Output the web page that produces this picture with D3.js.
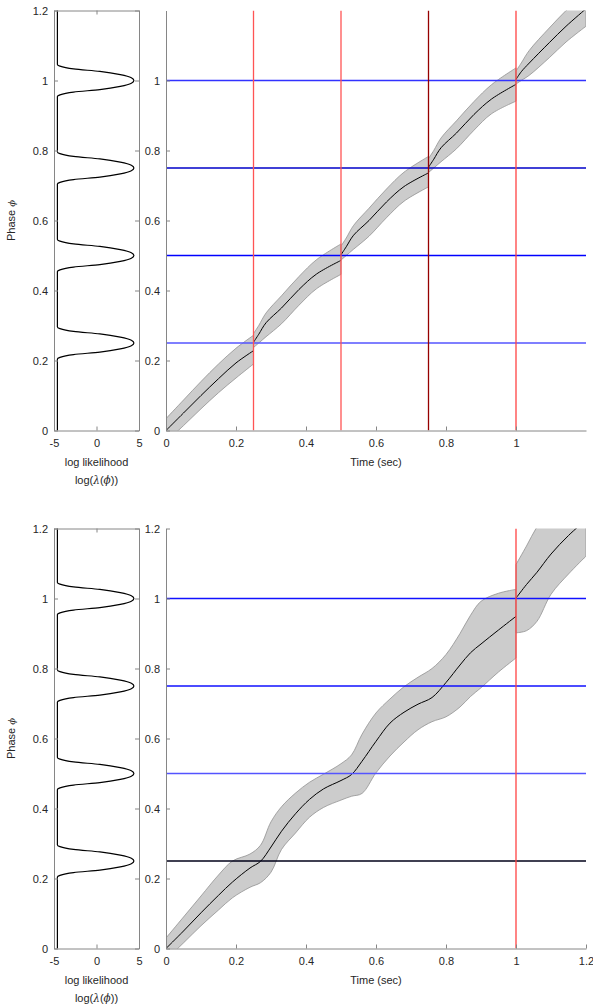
<!DOCTYPE html>
<html>
<head>
<meta charset="utf-8">
<script src="https://cdn.jsdelivr.net/npm/d3@7"></script>
<style>
  body { margin: 0; background: #fff; }
  text { font-family: "Liberation Sans", Arial, sans-serif; fill: #262626; }
</style>
</head>
<body>
<div id="fig"></div>
<script>
// ---- data ----
const phaseTicks = [0, 0.2, 0.4, 0.6, 0.8, 1, 1.2];
const topPhaseTicks = [0, 0.2, 0.4, 0.6, 0.8, 1];
const llTicks = [-5, 0, 5];
const topTimeTicks = [0, 0.2, 0.4, 0.6, 0.8, 1];
const botTimeTicks = [0, 0.2, 0.4, 0.6, 0.8, 1, 1.2];

// log likelihood profile (same in both rows)
const llPhase = [0,
  0.204, 0.209, 0.217, 0.224, 0.233, 0.242, 0.25, 0.258, 0.267, 0.276, 0.283, 0.291, 0.296,
  0.454, 0.459, 0.467, 0.474, 0.483, 0.492, 0.5, 0.508, 0.517, 0.526, 0.533, 0.541, 0.546,
  0.704, 0.709, 0.717, 0.724, 0.733, 0.742, 0.75, 0.758, 0.767, 0.776, 0.783, 0.791, 0.796,
  0.954, 0.959, 0.967, 0.974, 0.983, 0.992, 1, 1.008, 1.017, 1.026, 1.033, 1.041, 1.046,
  1.2];
const llValue = [-4.6,
  -4.6, -4.3, -2.7, 0.4, 2.8, 4.1, 4.4, 4.1, 2.8, 0.4, -2.7, -4.3, -4.6,
  -4.6, -4.3, -2.7, 0.4, 2.8, 4.1, 4.4, 4.1, 2.8, 0.4, -2.7, -4.3, -4.6,
  -4.6, -4.3, -2.7, 0.4, 2.8, 4.1, 4.4, 4.1, 2.8, 0.4, -2.7, -4.3, -4.6,
  -4.6, -4.3, -2.7, 0.4, 2.8, 4.1, 4.4, 4.1, 2.8, 0.4, -2.7, -4.3, -4.6,
  -4.6];

// top row: phase estimate with resets at every crossing
const topTime = [0, 0.05, 0.1, 0.15, 0.2, 0.25,
  0.25, 0.265, 0.286, 0.33, 0.38, 0.43, 0.5,
  0.5, 0.515, 0.536, 0.58, 0.63, 0.68, 0.75,
  0.75, 0.765, 0.786, 0.83, 0.88, 0.93, 1.0,
  1.0, 1.015, 1.038, 1.095, 1.143, 1.2];
const topMean = [0, 0.05, 0.1, 0.148, 0.193, 0.228,
  0.252, 0.275, 0.308, 0.35, 0.403, 0.447, 0.486,
  0.502, 0.525, 0.558, 0.6, 0.653, 0.697, 0.736,
  0.752, 0.775, 0.808, 0.85, 0.903, 0.947, 0.989,
  1.003, 1.025, 1.05, 1.108, 1.155, 1.205];
const topLower = [-0.033, 0.014, 0.062, 0.108, 0.15, 0.19,
  0.237, 0.25, 0.268, 0.305, 0.358, 0.405, 0.446,
  0.487, 0.5, 0.518, 0.555, 0.608, 0.655, 0.696,
  0.737, 0.75, 0.768, 0.805, 0.858, 0.905, 0.941,
  0.99, 1.0, 1.015, 1.065, 1.11, 1.155];
const topUpper = [0.034, 0.087, 0.14, 0.19, 0.235, 0.272,
  0.277, 0.3, 0.336, 0.385, 0.44, 0.488, 0.533,
  0.527, 0.55, 0.586, 0.635, 0.69, 0.738, 0.783,
  0.777, 0.8, 0.836, 0.885, 0.94, 0.988, 1.036,
  1.027, 1.05, 1.086, 1.15, 1.2, 1.255];
const topResets = [0.25, 0.5, 0.75, 1.0];
const topResetWeight = [0.25, 0.25, 0.8, 0.3];
const topLevels = [0.25, 0.5, 0.75, 1.0];
const topLevelWeight = [0.25, 0.5, 0.62, 0.35];

// bottom row: only one reset
const botTime = [0, 0.05, 0.1, 0.15, 0.19, 0.24, 0.27, 0.3, 0.33, 0.37, 0.41, 0.45, 0.5, 0.53,
  0.56, 0.6, 0.64, 0.68, 0.72, 0.76, 0.8, 0.84, 0.87, 0.9, 0.95, 1.0,
  1.0, 1.03, 1.06, 1.1, 1.15, 1.2];
const botMean = [0, 0.05, 0.102, 0.152, 0.19, 0.23, 0.249, 0.29, 0.335, 0.385, 0.426, 0.456, 0.48, 0.497,
  0.535, 0.592, 0.644, 0.675, 0.698, 0.717, 0.76, 0.81, 0.845, 0.87, 0.91, 0.949,
  1.001, 1.04, 1.075, 1.127, 1.18, 1.225];
const botUpper = [0.03, 0.09, 0.15, 0.21, 0.25, 0.27, 0.295, 0.362, 0.405, 0.444, 0.475, 0.498, 0.528, 0.553,
  0.612, 0.673, 0.713, 0.748, 0.775, 0.8, 0.84, 0.9, 0.952, 0.992, 1.015, 1.026,
  1.097, 1.15, 1.205, 1.26, 1.32, 1.37];
const botLower = [-0.032, 0.016, 0.065, 0.11, 0.145, 0.175, 0.188, 0.218, 0.283, 0.33, 0.375, 0.403, 0.424, 0.435,
  0.443, 0.502, 0.55, 0.59, 0.625, 0.648, 0.662, 0.69, 0.72, 0.745, 0.79, 0.83,
  0.902, 0.908, 0.935, 1.012, 1.07, 1.121];
const botResets = [1.0];
const botResetWeight = [0.3];
const botLevels = [0.25, 0.5, 0.75, 1.0];
const botLevelWeight = [1.0, 0.25, 0.45, 0.45];

// ---- drawing ----
const W = 593, H = 1007;
const axisColor = "#868686";
const redScale = d3.piecewise(d3.interpolateRgb, ["#ffa8a8", "#ff0000", "#500000"]);
const blueScale = d3.piecewise(d3.interpolateRgb, ["#a8a8ff", "#0000ff", "#000018"]);

const svg = d3.select("#fig").append("svg")
  .attr("width", W)
  .attr("height", H);

function styleAxis(sel) {
  sel.selectAll("path.domain").attr("stroke", axisColor).attr("stroke-width", 1);
  sel.selectAll(".tick line").attr("stroke", axisColor);
  sel.selectAll(".tick text")
    .style("font-size", "11px")
    .style("font-family", "'Liberation Sans', Arial, sans-serif")
    .attr("fill", "#262626");
}

function phaseLabel(g, x, y) {
  let t = g.append("text")
    .attr("transform", "translate(" + x + "," + y + ") rotate(-90)")
    .attr("text-anchor", "middle")
    .style("font-size", "11px");
  t.append("tspan").text("Phase ");
  t.append("tspan").style("font-family", "'DejaVu Serif', serif").style("font-style", "italic")
    .style("font-size", "10px").text("\u03d5");
}

function drawRow(cfg) {
  let g = svg.append("g");
  let id = cfg.id;

  let y = d3.scaleLinear().domain([0, 1.2]).range([cfg.bottom, cfg.top]);
  let xl = d3.scaleLinear().domain([-5, 5]).range([54, 139]);
  let xt = d3.scaleLinear().domain([0, 1.2]).range([166, 586]);

  // --- likelihood panel ---
  let ll = llPhase.map((p, i) => ({ p: p, v: llValue[i] }));
  g.append("path")
    .datum(ll)
    .attr("fill", "none")
    .attr("stroke", "#000")
    .attr("stroke-width", 1.2)
    .attr("d", d3.line().x(d => xl(d.v)).y(d => y(d.p)).curve(d3.curveMonotoneY));

  g.append("g").attr("transform", "translate(54,0)")
    .call(d3.axisLeft(y).tickValues(phaseTicks).tickFormat(d => String(d)).tickSize(-4).tickSizeOuter(0).tickPadding(6))
    .call(styleAxis);
  g.append("g").attr("transform", "translate(139,0)")
    .call(d3.axisRight(y).tickValues(phaseTicks).tickFormat("").tickSize(-4).tickSizeOuter(0))
    .call(styleAxis);
  g.append("g").attr("transform", "translate(0," + cfg.bottom + ")")
    .call(d3.axisBottom(xl).tickValues(llTicks).tickFormat(d => String(d)).tickSize(-4).tickSizeOuter(0).tickPadding(9))
    .call(styleAxis);
  g.append("g").attr("transform", "translate(0," + cfg.top + ")")
    .call(d3.axisTop(xl).tickValues(llTicks).tickFormat("").tickSize(-4).tickSizeOuter(0))
    .call(styleAxis);

  phaseLabel(g, 15, (cfg.top + cfg.bottom) / 2);

  g.append("text").attr("x", 96.5).attr("y", cfg.bottom + 35)
    .attr("text-anchor", "middle").style("font-size", "11px").text("log likelihood");
  let l2 = g.append("text").attr("x", 96.5).attr("y", cfg.bottom + 53)
    .attr("text-anchor", "middle").style("font-size", "11px");
  l2.append("tspan").text("log(");
  l2.append("tspan").style("font-family", "'DejaVu Serif', serif").style("font-style", "italic").style("font-size", "10.5px").text("\u03bb");
  l2.append("tspan").text("(");
  l2.append("tspan").style("font-family", "'DejaVu Serif', serif").style("font-style", "italic").style("font-size", "10.5px").text("\u03d5");
  l2.append("tspan").text("))");

  // --- phase trajectory panel ---
  svg.append("defs").append("clipPath").attr("id", "clip" + id)
    .append("rect")
    .attr("x", xt(0)).attr("y", cfg.top)
    .attr("width", xt(1.2) - xt(0)).attr("height", cfg.bottom - cfg.top);

  let plot = g.append("g").attr("clip-path", "url(#clip" + id + ")");

  // split at the resets (repeated time values)
  let segs = [], cur = [];
  cfg.time.forEach((t, i) => {
    if (i > 0 && t === cfg.time[i - 1]) { segs.push(cur); cur = []; }
    cur.push({ t: t, m: cfg.mean[i], lo: cfg.lower[i], hi: cfg.upper[i] });
  });
  segs.push(cur);

  let smooth = d3.curveCatmullRom.alpha(0.5);
  let band = d3.area()
    .x(d => xt(d.t))
    .y0(d => y(d.lo))
    .y1(d => y(d.hi))
    .curve(smooth);
  let meanLine = d3.line()
    .x(d => xt(d.t))
    .y(d => y(d.m))
    .curve(smooth);

  plot.selectAll(".band").data(segs).enter().append("path")
    .attr("class", "band")
    .attr("fill", "#cccccc")
    .attr("stroke", "#929292")
    .attr("stroke-width", 0.8)
    .attr("d", band);

  plot.selectAll(".mean").data(segs).enter().append("path")
    .attr("class", "mean")
    .attr("fill", "none")
    .attr("stroke", "#000")
    .attr("stroke-width", 1)
    .attr("d", meanLine);

  plot.selectAll(".level").data(cfg.levels).enter().append("line")
    .attr("class", "level")
    .attr("x1", xt(0)).attr("x2", xt(1.2))
    .attr("y1", d => y(d)).attr("y2", d => y(d))
    .attr("stroke", (d, i) => blueScale(cfg.levelWeight[i]))
    .attr("stroke-width", 1.3);

  plot.selectAll(".reset").data(cfg.resets).enter().append("line")
    .attr("class", "reset")
    .attr("x1", d => xt(d)).attr("x2", d => xt(d))
    .attr("y1", cfg.top).attr("y2", cfg.bottom)
    .attr("stroke", (d, i) => redScale(cfg.resetWeight[i]))
    .attr("stroke-width", 1.3);

  g.append("g").attr("transform", "translate(" + xt(0) + ",0)")
    .call(d3.axisLeft(y).tickValues(cfg.phaseTicks).tickFormat(d => String(d)).tickSize(-4).tickSizeOuter(0).tickPadding(6))
    .call(styleAxis);
  g.append("g").attr("transform", "translate(0," + cfg.bottom + ")")
    .call(d3.axisBottom(xt).tickValues(cfg.timeTicks).tickFormat(d => String(d)).tickSize(-4).tickSizeOuter(0).tickPadding(9))
    .call(styleAxis);

  g.append("text").attr("x", (xt(0) + xt(1.2)) / 2).attr("y", cfg.bottom + 35)
    .attr("text-anchor", "middle").style("font-size", "11px").text("Time (sec)");
}

drawRow({
  id: "top", top: 10.5, bottom: 430.5,
  time: topTime, mean: topMean, lower: topLower, upper: topUpper,
  resets: topResets, resetWeight: topResetWeight,
  levels: topLevels, levelWeight: topLevelWeight,
  phaseTicks: topPhaseTicks, timeTicks: topTimeTicks
});

drawRow({
  id: "bot", top: 528.5, bottom: 948.5,
  time: botTime, mean: botMean, lower: botLower, upper: botUpper,
  resets: botResets, resetWeight: botResetWeight,
  levels: botLevels, levelWeight: botLevelWeight,
  phaseTicks: phaseTicks, timeTicks: botTimeTicks
});
</script>
</body>
</html>
